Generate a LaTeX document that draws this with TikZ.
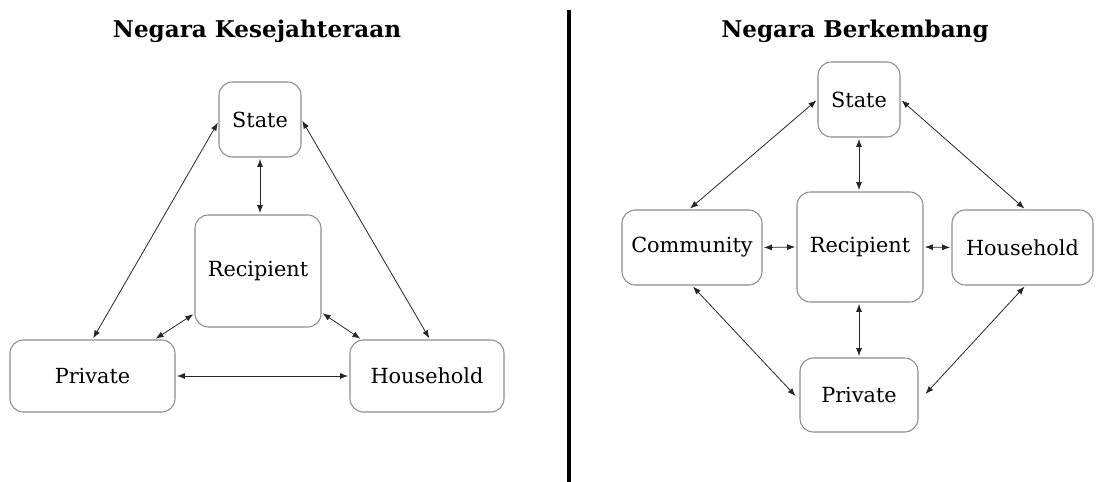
\documentclass[tikz,border=0pt]{standalone}
\usepackage{fontspec}
\setmainfont{DejaVu Serif}
\usetikzlibrary{arrows.meta,calc}
\begin{document}
\begin{tikzpicture}[x=0.75pt,y=-0.75pt,
  box/.style={draw=black!45,line width=0.8pt,rounded corners=10pt,fill=white,
    font=\fontsize{15.6}{18}\selectfont,inner sep=0pt},
  link/.style={line width=0.6pt,black!85,{Latex[length=6pt,width=4.5pt]}-{Latex[length=6pt,width=4.5pt]},shorten >=1pt,shorten <=1pt},
  ttl/.style={font=\fontsize{17.3}{20}\selectfont\bfseries}]
\useasboundingbox (0,0) rectangle (1097,482);
% titles and divider
\node[ttl] (t1) at (257,31) {Negara Kesejahteraan};
\node[ttl] (t2) at (855,31) {Negara Berkembang};
\coordinate (dtop) at (569,10);
\coordinate (dbot) at (569,482);
\draw[line width=3.2pt] (dtop) -- (dbot);
% left diagram
\node[box,minimum width=61.5pt,minimum height=56.25pt] (sL) at (260,119.5) {State};
\node[box,minimum width=94.5pt,minimum height=84pt] (rL) at (258,271) {Recipient};
\node[box,minimum width=123.75pt,minimum height=54pt] (pL) at (92.5,376) {Private};
\node[box,minimum width=115.5pt,minimum height=54pt] (hL) at (427,376) {Household};
\draw[link] ($(sL.west)+(0,2)$) -- (pL.north);
\draw[link] (sL.east) -- ($(hL.north)+(3,0)$);
\draw[link] (sL.south) -- (sL.south |- rL.north);
\draw[link] ($(rL.south west)+(0,-14)$) -- ($(pL.north east)+(-21,0)$);
\draw[link] ($(rL.south east)+(0,-15)$) -- ($(hL.north west)+(12,0)$);
\draw[link] (pL.east) -- (hL.west);
% right diagram
\node[box,minimum width=61.5pt,minimum height=56.25pt] (sR) at (859,99.5) {State};
\node[box,minimum width=94.5pt,minimum height=82.5pt] (rR) at (860,247) {Recipient};
\node[box,minimum width=105pt,minimum height=56.25pt] (cR) at (692,247.5) {Community};
\node[box,minimum width=105.75pt,minimum height=56.25pt] (hR) at (1022.5,247.5) {Household};
\node[box,minimum width=88.5pt,minimum height=55.5pt] (pR) at (859,395) {Private};
\draw[link] (sR.west) -- ($(cR.north)+(-3,0)$);
\draw[link] (sR.east) -- ($(hR.north)+(3,0)$);
\draw[link] (sR.south) -- (sR.south |- rR.north);
\draw[link] (cR.east) -- (rR.west);
\draw[link] (rR.east) -- (hR.west);
\draw[link] (rR.south -| pR.north) -- (pR.north);
\draw[link] (cR.south) -- ($(pR.west)+(-3,2)$);
\draw[link] ($(hR.south)+(3,0)$) -- ($(pR.east)+(6,0)$);
\end{tikzpicture}
\end{document}
